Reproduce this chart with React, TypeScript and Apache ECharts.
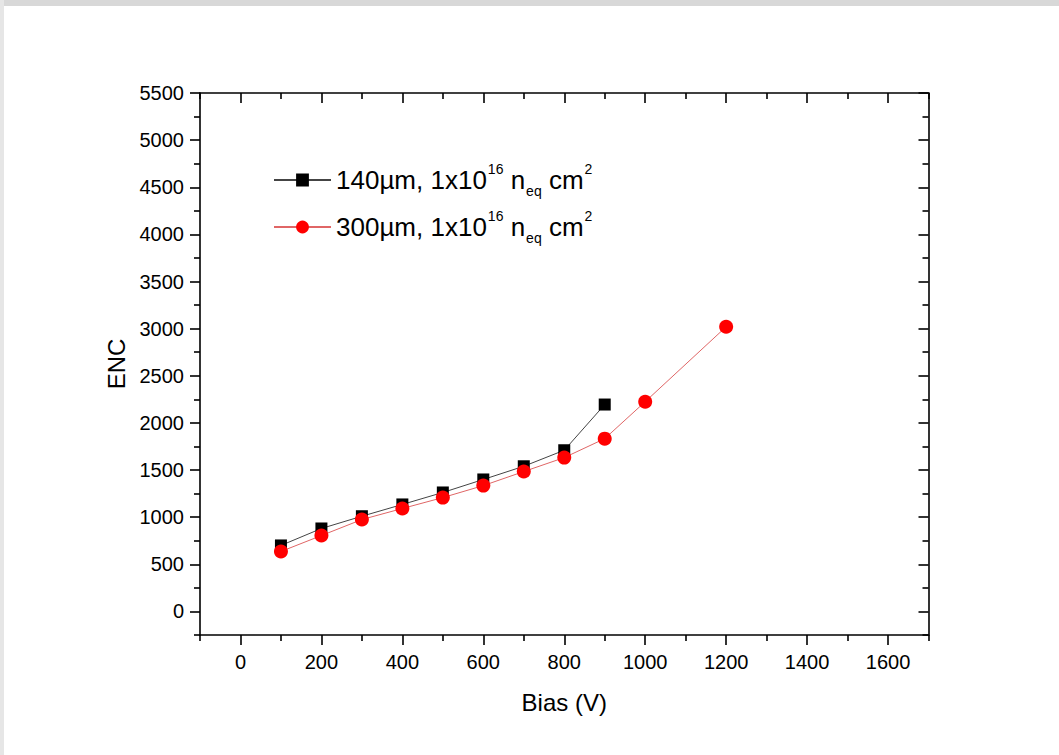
import React, { useEffect, useRef } from "react";
import * as echarts from "echarts";

const biasBlack = [100, 200, 300, 400, 500, 600, 700, 800, 900];
const encBlack = [700, 880, 1010, 1135, 1262, 1400, 1540, 1710, 2195];
const biasRed = [100, 200, 300, 400, 500, 600, 700, 800, 900, 1000, 1200];
const encRed = [636, 805, 975, 1092, 1208, 1335, 1484, 1632, 1833, 2225, 3020];

const xMajor = [0, 200, 400, 600, 800, 1000, 1200, 1400, 1600];
const xMinor = [-100, 100, 300, 500, 700, 900, 1100, 1300, 1500, 1700];
const yMajor = [0, 500, 1000, 1500, 2000, 2500, 3000, 3500, 4000, 4500, 5000, 5500];
const yMinor = [-250, 250, 750, 1250, 1750, 2250, 2750, 3250, 3750, 4250, 4750, 5250];

const seriesNames = ["140µm", "300µm"];

const FONT = "Liberation Sans, Arial, sans-serif";

export default function App() {
  const ref = useRef<HTMLDivElement>(null);
  useEffect(() => {
    const chart = echarts.init(ref.current!, null, { renderer: "svg" });
    const xBase = { type: "value", min: -100, max: 1700, interval: 100, splitLine: { show: false } };
    const yBase = { type: "value", min: -250, max: 5500, interval: 250, splitLine: { show: false } };
    const line = { show: true, onZero: false, lineStyle: { color: "#000", width: 1.6 } };
    const noLine = { show: false, onZero: false };
    const tickStyle = { color: "#000", width: 1.6 };
    const fmt = (v: number) => String(v);
    chart.setOption({
      animation: false,
      backgroundColor: "#fff",
      graphic: [
        { type: "rect", shape: { x: 0, y: 0, width: 1059, height: 6 }, style: { fill: "#d8d8d8" }, silent: true },
        { type: "rect", shape: { x: 0, y: 0, width: 4, height: 755 }, style: { fill: "#e6e6e6" }, silent: true },
      ],
      grid: { left: 200, right: 130.5, top: 93, bottom: 120, containLabel: false },
      xAxis: [
        {
          ...xBase, position: "bottom", axisLine: line,
          axisTick: { show: true, inside: false, length: 10, customValues: xMajor, lineStyle: tickStyle },
          axisLabel: { show: true, customValues: xMajor, formatter: fmt, margin: 17, color: "#000", fontSize: 20, fontFamily: FONT },
          name: "Bias (V)", nameLocation: "middle", nameGap: 55,
          nameTextStyle: { color: "#000", fontSize: 24, fontFamily: FONT },
        },
        {
          ...xBase, position: "bottom", axisLine: noLine,
          axisTick: { show: true, inside: false, length: 6, customValues: xMinor, lineStyle: tickStyle },
          axisLabel: { show: false },
        },
        {
          ...xBase, position: "top", axisLine: line,
          axisTick: { show: true, inside: true, length: 10, customValues: xMajor, lineStyle: tickStyle },
          axisLabel: { show: false },
        },
        {
          ...xBase, position: "top", axisLine: noLine,
          axisTick: { show: true, inside: true, length: 6, customValues: xMinor, lineStyle: tickStyle },
          axisLabel: { show: false },
        },
      ],
      yAxis: [
        {
          ...yBase, position: "left", axisLine: line,
          axisTick: { show: true, inside: false, length: 10, customValues: yMajor, lineStyle: tickStyle },
          axisLabel: { show: true, customValues: yMajor, formatter: fmt, margin: 16, color: "#000", fontSize: 20, fontFamily: FONT },
          name: "ENC", nameLocation: "middle", nameGap: 71,
          nameTextStyle: { color: "#000", fontSize: 24, fontFamily: FONT },
        },
        {
          ...yBase, position: "left", axisLine: noLine,
          axisTick: { show: true, inside: false, length: 6, customValues: yMinor, lineStyle: tickStyle },
          axisLabel: { show: false },
        },
        {
          ...yBase, position: "right", axisLine: line,
          axisTick: { show: true, inside: true, length: 10, customValues: yMajor, lineStyle: tickStyle },
          axisLabel: { show: false },
        },
        {
          ...yBase, position: "right", axisLine: noLine,
          axisTick: { show: true, inside: true, length: 6, customValues: yMinor, lineStyle: tickStyle },
          axisLabel: { show: false },
        },
      ],
      legend: {
        orient: "vertical",
        left: 268,
        top: 157,
        itemWidth: 57,
        itemHeight: 16,
        itemGap: 11,
        selectedMode: false,
        data: [
          { name: seriesNames[0], itemStyle: { color: "#000" } },
          { name: seriesNames[1], itemStyle: { color: "#ff0000" } },
        ],
        formatter: (name: string) => `{a|${name}, 1x10}{sup|16}{a| n}{sub|eq}{a| cm}{sup|2}`,
        textStyle: {
          color: "#000",
          fontFamily: FONT,
          rich: {
            a: { fontSize: 26, fontFamily: FONT, color: "#000", lineHeight: 36 },
            sup: { fontSize: 14, fontFamily: FONT, color: "#000", lineHeight: 14, verticalAlign: "top", padding: [0, 0, 0, 1] },
            sub: { fontSize: 14, fontFamily: FONT, color: "#000", lineHeight: 14, verticalAlign: "bottom", padding: [0, 0, 0, 1] },
          },
        },
      },
      series: [
        {
          name: seriesNames[0],
          type: "line",
          xAxisIndex: 0,
          yAxisIndex: 0,
          data: biasBlack.map((x, i) => [x, encBlack[i]]),
          symbol: "rect",
          symbolSize: 12,
          itemStyle: { color: "#000" },
          lineStyle: { color: "#444", width: 1 },
          z: 3,
        },
        {
          name: seriesNames[1],
          type: "line",
          xAxisIndex: 0,
          yAxisIndex: 0,
          data: biasRed.map((x, i) => [x, encRed[i]]),
          symbol: "circle",
          symbolSize: 14,
          itemStyle: { color: "#ff0000" },
          lineStyle: { color: "#e06666", width: 1 },
          z: 4,
        },
      ],
    });
    return () => chart.dispose();
  }, []);
  return (
    <div
      ref={ref}
      style={{ position: "absolute", left: 0, top: 0, width: 1059, height: 755 }}
    />
  );
}
